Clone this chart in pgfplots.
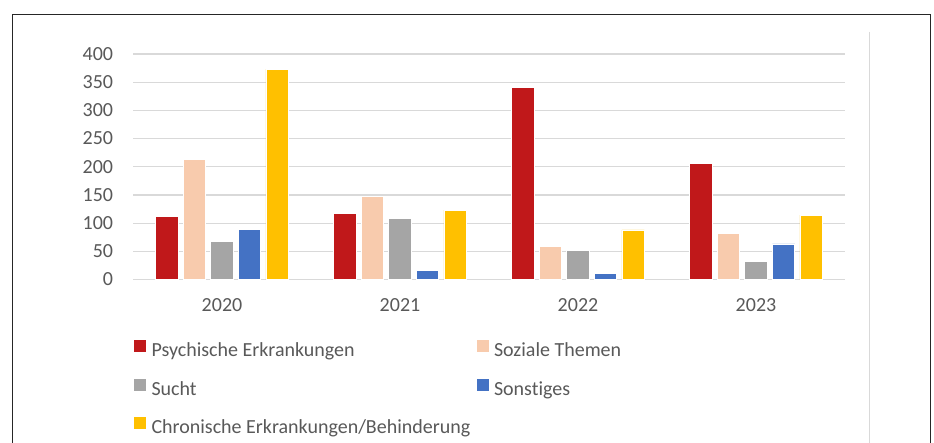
\documentclass[border=0pt]{standalone}
\usepackage{pgfplots}
\pgfplotsset{compat=1.18}
\usepackage{fontspec}
\setmainfont{Carlito}[Ligatures=NoCommon]
\definecolor{cRed}{RGB}{192,24,26}
\definecolor{cPeach}{RGB}{248,203,173}
\definecolor{cGray}{RGB}{165,165,165}
\definecolor{cBlue}{RGB}{68,114,196}
\definecolor{cYellow}{RGB}{255,192,0}
\definecolor{gridgray}{RGB}{217,217,217}
\definecolor{textgray}{RGB}{89,89,89}
\newcommand{\cf}{\fontsize{20bp}{24bp}\selectfont}
\begin{document}
\begin{tikzpicture}
\path[use as bounding box] (0,0) rectangle (934bp,443bp);
\fill[white] (0,0) rectangle (934bp,443bp);
\draw[line width=1bp, black!85] (12.7bp,-2bp) -- (12.7bp,428.3bp) -- (930.3bp,428.3bp) -- (930.3bp,-2bp);
\draw[line width=1bp, gridgray] (869.3bp,411bp) -- (869.3bp,-2bp);
\begin{axis}[
  at={(133bp,163.5bp)}, anchor=south west,
  scale only axis, width=712bp, height=225.5bp,
  ymin=0, ymax=400, ytick={0,50,...,400},
  xmin=-0.5, xmax=3.5, xtick={0,1,2,3},
  xticklabels={2020,2021,2022,2023},
  axis line style={draw=none},
  major tick length=0pt,
  ymajorgrids, grid style={gridgray, line width=1.2bp},
  font=\cf,
  tick label style={font=\cf, text=textgray},
  /pgf/number format/assume math mode=true,
  yticklabel style={anchor=east, inner sep=0pt, xshift=-19.7bp},
  xticklabel style={anchor=base, inner sep=0pt, yshift=-32.2bp},
  ybar=5.1bp, bar width=22.5bp,
  every axis plot/.append style={draw=white, line width=0.75bp,
    legend image code/.code={\fill[#1, draw=none] (0bp,0bp) rectangle (12bp,12bp);}},
  legend columns=2,
  legend style={draw=none, fill=none, inner sep=0pt, outer sep=0pt,
    at={(0.0014,-0.2683)}, anchor=north west, font=\cf, text=textgray,
    nodes={inner sep=0pt, text height=13bp, text depth=4bp},
    /tikz/every odd column/.append style={column sep=5.5bp},
    /tikz/every even column/.append style={column sep=5bp},
    /tikz/row sep=18bp},
  legend cell align=left,
]
\addplot[fill=cRed] coordinates {(0,112) (1,117) (2,340) (3,206)};
\addlegendentry{\makebox[320bp][l]{Psychische Erkrankungen}}
\addplot[fill=cPeach] coordinates {(0,213) (1,148) (2,59) (3,82)};
\addlegendentry{Soziale Themen}
\addplot[fill=cGray] coordinates {(0,68) (1,108) (2,51) (3,32)};
\addlegendentry{\makebox[320bp][l]{Sucht}}
\addplot[fill=cBlue] coordinates {(0,89) (1,16) (2,10) (3,63)};
\addlegendentry{Sonstiges}
\addplot[fill=cYellow] coordinates {(0,373) (1,123) (2,88) (3,114)};
\addlegendentry{\makebox[320bp][l]{Chronische Erkrankungen/Behinderung}}
\end{axis}
\end{tikzpicture}
\end{document}
